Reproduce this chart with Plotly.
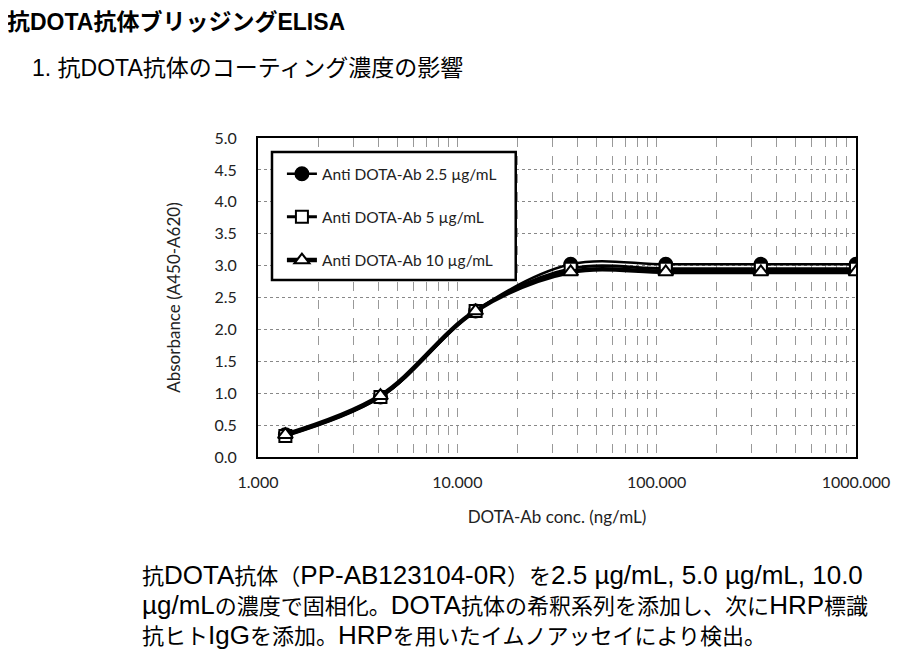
import re
import plotly.graph_objects as go

# DOTA-Ab 3-fold dilution series (ng/mL)
conc = [1.372, 4.115, 12.35, 37.04, 111.1, 333.3, 1000.0]

abs_2_5 = [0.35, 0.94, 2.29, 3.02, 3.02, 3.02, 3.02]
abs_5 = [0.33, 0.94, 2.29, 2.95, 2.95, 2.95, 2.95]
abs_10 = [0.35, 0.96, 2.29, 2.90, 2.90, 2.90, 2.90]

series_names = ["Anti DOTA-Ab 2.5 µg/mL", "Anti DOTA-Ab 5 µg/mL", "Anti DOTA-Ab 10 µg/mL"]

x_tickvals = [1, 10, 100, 1000]
x_ticktext = ["1.000", "10.000", "100.000", "1000.000"]

title_main = "抗DOTA抗体ブリッジングELISA"
title_sub = "1. 抗DOTA抗体のコーティング濃度の影響"
notes = [
    "抗DOTA抗体（PP-AB123104-0R）を2.5 µg/mL, 5.0 µg/mL, 10.0",
    "µg/mLの濃度で固相化。DOTA抗体の希釈系列を添加し、次にHRP標識",
    "抗ヒトIgGを添加。HRPを用いたイムノアッセイにより検出。",
]

fig = go.Figure()

styles = [
    dict(symbol="circle", color="black", size=13, lw=2.5),
    dict(symbol="square", color="white", size=12, lw=3),
    dict(symbol="triangle-up", color="white", size=13, lw=4.5),
]
for i, (name, ys) in enumerate(zip(series_names, [abs_2_5, abs_5, abs_10])):
    s = styles[i]
    fig.add_trace(go.Scatter(
        x=conc, y=ys, name=name, mode="lines+markers",
        legendgroup=str(i),
        line=dict(color="black", width=s["lw"], shape="spline", smoothing=1.0),
        marker=dict(symbol=s["symbol"], size=s["size"], color=s["color"],
                    line=dict(color="black", width=2)),
    ))

tick_font = dict(family="Lato, Liberation Sans, sans-serif", size=16, color="#222")
title_font = dict(family="Lato, Liberation Sans, sans-serif", size=17, color="#222")

fig.update_xaxes(
    type="log", range=[0, 3],
    tickvals=x_tickvals, ticktext=x_ticktext, ticks="", ticklabelstandoff=10,
    showline=True, linecolor="black", linewidth=2, mirror=True,
    showgrid=True, gridcolor="#999", griddash="dash", gridwidth=1,
    minor=dict(dtick="D1", showgrid=True, gridcolor="#999", griddash="dash", gridwidth=1, ticks=""),
    tickfont=tick_font,
    title=dict(text="DOTA-Ab conc. (ng/mL)", font=title_font, standoff=21),
    zeroline=False,
)
fig.update_yaxes(
    range=[0, 5], dtick=0.5, tickformat=".1f", ticks="", ticklabelstandoff=16,
    showline=True, linecolor="black", linewidth=2, mirror=True,
    showgrid=True, gridcolor="#888", griddash="dot", gridwidth=1,
    tickfont=tick_font,
    title=dict(text="Absorbance (A450-A620)", font=title_font, standoff=30),
    zeroline=False,
)

# legend frame (white box with black border)
fig.add_shape(
    type="rect", xref="paper", yref="paper",
    x0=0.0234, x1=0.431, y0=0.555, y1=0.956,
    fillcolor="white", line=dict(color="black", width=2.5), layer="above",
)


def bigger_latin(txt, px):
    # latin runs look larger than the kana/kanji in the original slide
    return re.sub(r"([A-Za-z0-9µ.,/\- ]+)",
                  lambda m: '<span style="font-size:%dpx">%s</span>' % (px, m.group(1)), txt)


jp_font = "Liberation Sans, Noto Sans CJK JP, sans-serif"
annotations = [
    dict(text="<b>" + title_main + "</b>", x=-0.423, y=1.364, size=23),
    dict(text=title_sub, x=-0.381, y=1.219, size=23),
]
for k, line in enumerate(notes):
    annotations.append(dict(text=bigger_latin(line, 26), x=-0.197, y=-0.370 - 0.094 * k, size=22))
for a in annotations:
    fig.add_annotation(
        text=a["text"], x=a["x"], y=a["y"], xref="paper", yref="paper",
        xanchor="left", yanchor="middle", showarrow=False, align="left",
        font=dict(family=jp_font, size=a["size"], color="black"),
    )

fig.update_layout(
    width=912, height=642,
    margin=dict(l=250, r=64, t=130, b=193),
    paper_bgcolor="white", plot_bgcolor="white",
    legend=dict(
        x=0.040, y=0.940, xanchor="left", yanchor="top",
        bgcolor="rgba(0,0,0,0)", borderwidth=0,
        font=dict(family="Lato, Liberation Sans, sans-serif", size=15.5, color="#222"),
        traceorder="grouped", tracegroupgap=20,
    ),
    showlegend=True,
)

fig.write_html("out.html")
